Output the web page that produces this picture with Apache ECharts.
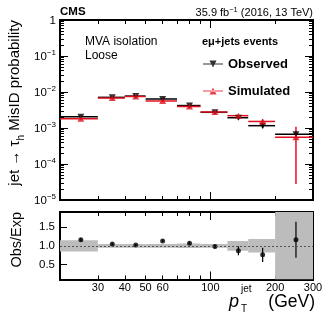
<!DOCTYPE html>
<html><head><meta charset="utf-8">
<script src="https://cdn.jsdelivr.net/npm/echarts@6/dist/echarts.min.js"></script>
<style>html,body{margin:0;padding:0;background:#fff}#c{width:332px;height:319px}</style>
</head><body><div id="c"></div><script>
// ---- data ----
const binLow = [20, 30, 40, 50, 70, 90, 120, 150, 200];
const binHigh = [30, 40, 50, 70, 90, 120, 150, 200, 300];
const binCenter = [25, 35, 45, 60, 80, 105, 135, 175, 250];
const observed = [2.06e-3, 7.1e-3, 7.7e-3, 6.4e-3, 4.2e-3, 2.73e-3, 1.93e-3, 1.16e-3, 6.7e-4];
const observedErrUp = [0.12e-3, 0.3e-3, 0.35e-3, 0.3e-3, 0.22e-3, 0.15e-3, 0.18e-3, 0.15e-3, 0.07e-3];
const observedErrDown = [0.12e-3, 0.3e-3, 0.35e-3, 0.3e-3, 0.22e-3, 0.15e-3, 0.18e-3, 0.18e-3, 0.1e-3];
const simulated = [1.81e-3, 6.8e-3, 7.5e-3, 5.65e-3, 3.95e-3, 2.78e-3, 2.2e-3, 1.52e-3, 5.5e-4];
const simulatedErrUp = [0.1e-3, 0.3e-3, 0.3e-3, 0.25e-3, 0.2e-3, 0.12e-3, 0.12e-3, 0.22e-3, 5.4e-4];
const simulatedErrDown = [0.1e-3, 0.3e-3, 0.3e-3, 0.25e-3, 0.2e-3, 0.12e-3, 0.12e-3, 0.2e-3, 5.22e-4];
const ratio = [1.16, 1.045, 1.02, 1.13, 1.07, 0.98, 0.87, 0.76, 1.16];
const ratioErr = [0.04, 0.03, 0.03, 0.03, 0.04, 0.05, 0.12, 0.19, 0.48];
const bandErr = [0.15, 0.05, 0.05, 0.05, 0.06, 0.05, 0.13, 0.18, 1.5];
const xRange = [20, 300];
const xTickLabels = [30, 40, 50, 60, 100, 200, 300];
const xMajorTicks = [100];
const xMinorTicks = [30, 40, 50, 60, 70, 80, 90, 200];
const yDecades = [-5, -4, -3, -2, -1, 0];
const ratioRange = [0.1, 1.9];
const ratioTickLabels = [0.5, 1.0, 1.5];

// ---- helpers ----
const L = v => Math.log10(v);
const FONT = '"Liberation Sans", Arial, Helvetica, sans-serif';
const RED = '#e0101e';
const yMinor = [];
yDecades.slice(0, -1).forEach(n => { for (let k = 2; k <= 9; k++) yMinor.push(n + L(k)); });

function xAx(grid, pos, ticks, len, labels) {
  return {
    type: 'value', gridIndex: grid, position: pos, min: L(xRange[0]), max: L(xRange[1]),
    axisLine: { show: true, onZero: false, lineStyle: { color: '#000', width: 2 } },
    axisTick: { show: true, inside: true, length: len, customValues: ticks, lineStyle: { color: '#000', width: 1 } },
    axisLabel: labels ? { show: true, customValues: labels.map(L), formatter: v => String(Math.round(Math.pow(10, v))),
      fontSize: 11, color: '#000', fontFamily: FONT, margin: 3 } : { show: false },
    splitLine: { show: false }
  };
}
function yLog(pos, ticks, len, labels) {
  return {
    type: 'value', gridIndex: 0, position: pos, min: -5, max: 0,
    axisLine: { show: true, onZero: false, lineStyle: { color: '#000', width: 2 } },
    axisTick: { show: true, inside: true, length: len, customValues: ticks, lineStyle: { color: '#000', width: 1 } },
    axisLabel: labels ? {
      show: true, customValues: yDecades, margin: 4, color: '#000', fontFamily: FONT,
      formatter: v => { const n = Math.round(v); return n === 0 ? '{b|1}' : '{b|10}{s|\u2212' + (-n) + '}'; },
      rich: { b: { fontSize: 11.5, fontFamily: FONT, color: '#000', verticalAlign: 'bottom', lineHeight: 14 },
              s: { fontSize: 8, fontFamily: FONT, color: '#000', verticalAlign: 'top', lineHeight: 14 } }
    } : { show: false },
    splitLine: { show: false }
  };
}
function yRatio(pos, labels) {
  return {
    type: 'value', gridIndex: 1, position: pos, min: ratioRange[0], max: ratioRange[1],
    axisLine: { show: true, onZero: false, lineStyle: { color: '#000', width: 2 } },
    axisTick: { show: true, inside: true, length: 7, customValues: ratioTickLabels, lineStyle: { color: '#000', width: 1 } },
    axisLabel: labels ? { show: true, customValues: ratioTickLabels, formatter: v => v.toFixed(1),
      fontSize: 11.5, color: '#000', fontFamily: FONT, margin: 5 } : { show: false },
    splitLine: { show: false }
  };
}

const xMaj = xMajorTicks.map(L), xMin = xMinorTicks.map(L);
const xAxes = [
  xAx(0, 'bottom', xMaj, 8), xAx(0, 'bottom', xMin, 4), xAx(0, 'top', xMaj, 8), xAx(0, 'top', xMin, 4),
  xAx(1, 'bottom', xMaj, 8, xTickLabels), xAx(1, 'bottom', xMin, 4), xAx(1, 'top', xMaj, 8), xAx(1, 'top', xMin, 4)
];
const yAxes = [
  yLog('left', yDecades, 8, true), yLog('left', yMinor, 4), yLog('right', yDecades, 8), yLog('right', yMinor, 4),
  yRatio('left', true), yRatio('right')
];

const obsRows = binLow.map((lo, i) => [L(lo), L(binHigh[i]), L(binCenter[i]), L(observed[i]),
  L(observed[i] - observedErrDown[i]), L(observed[i] + observedErrUp[i])]);
const simRows = binLow.map((lo, i) => [L(lo), L(binHigh[i]), L(binCenter[i]), L(simulated[i]),
  L(simulated[i] - simulatedErrDown[i]), L(simulated[i] + simulatedErrUp[i])]);
const bandRows = binLow.map((lo, i) => [L(lo), L(binHigh[i]), 1 + bandErr[i], 1 - bandErr[i]]);
const ratioRows = binCenter.map((c, i) => [L(c), ratio[i]]);
const ratioErrRows = binCenter.map((c, i) => [L(c), ratio[i] - ratioErr[i], ratio[i] + ratioErr[i]]);

function errRender(color) {
  return (params, api) => {
    const a = api.coord([api.value(0), api.value(3)]);
    const b = api.coord([api.value(1), api.value(3)]);
    const e1 = api.coord([api.value(2), api.value(4)]);
    const e2 = api.coord([api.value(2), api.value(5)]);
    return { type: 'group', children: [
      { type: 'line', shape: { x1: a[0], y1: a[1], x2: b[0], y2: b[1] }, style: { stroke: color, lineWidth: 1.5 } },
      { type: 'line', shape: { x1: e1[0], y1: e1[1], x2: e2[0], y2: e2[1] }, style: { stroke: color, lineWidth: 1.5 } }
    ] };
  };
}

const chart = echarts.init(document.getElementById('c'), null, { renderer: 'canvas' });
chart.setOption({
  animation: false,
  backgroundColor: '#fff',
  textStyle: { fontFamily: FONT },
  grid: [
    { left: 60, top: 20, width: 253, height: 180, outerBoundsMode: 'none' },
    { left: 60, top: 212, width: 253, height: 67.5, outerBoundsMode: 'none' }
  ],
  xAxis: xAxes,
  yAxis: yAxes,
  legend: {
    data: [
      { name: 'Observed', icon: 'path://M0,3.4L20,3.4L20,4.6L0,4.6Z M6.5,0.5L13.5,0.5L10,7.5Z' },
      { name: 'Simulated', icon: 'path://M0,3.4L20,3.4L20,4.6L0,4.6Z M6.5,7.5L13.5,7.5L10,0.5Z' }
    ],
    orient: 'vertical', left: 198, top: 50,
    itemWidth: 20, itemHeight: 8, itemGap: 9, itemStyle: { borderWidth: 0 },
    textStyle: { fontSize: 13, fontWeight: 'bold', color: '#000', fontFamily: FONT, lineHeight: 18 },
    selectedMode: false
  },
  series: [
    { type: 'custom', name: 'obsErr', xAxisIndex: 0, yAxisIndex: 0, data: obsRows,
      encode: { x: [0, 1, 2], y: [3, 4, 5] }, renderItem: errRender('#000'), z: 2 },
    { type: 'custom', name: 'simErr', xAxisIndex: 0, yAxisIndex: 0, data: simRows,
      encode: { x: [0, 1, 2], y: [3, 4, 5] }, renderItem: errRender(RED), z: 3 },
    { type: 'scatter', name: 'Observed', xAxisIndex: 0, yAxisIndex: 0, data: obsRows.map(r => [r[2], r[3]]),
      symbol: 'triangle', symbolRotate: 180, symbolSize: [7, 6], itemStyle: { color: '#000' }, z: 4 },
    { type: 'scatter', name: 'Simulated', xAxisIndex: 0, yAxisIndex: 0, data: simRows.map(r => [r[2], r[3]]),
      symbol: 'triangle', symbolSize: [7, 6], itemStyle: { color: RED }, z: 5 },
    { type: 'custom', name: 'band', xAxisIndex: 4, yAxisIndex: 4, data: bandRows, clip: true,
      encode: { x: [0, 1], y: [2, 3] }, z: 1,
      renderItem: (params, api) => {
        const cs = params.coordSys;
        const a = api.coord([api.value(0), api.value(2)]);
        const b = api.coord([api.value(1), api.value(3)]);
        const y1 = Math.max(cs.y, Math.min(a[1], b[1]));
        const y2 = Math.min(cs.y + cs.height, Math.max(a[1], b[1]));
        return { type: 'rect', shape: { x: a[0], y: y1, width: b[0] - a[0], height: y2 - y1 },
          style: { fill: '#bcbcbc' } };
      } },
    { type: 'custom', name: 'ratioErr', xAxisIndex: 4, yAxisIndex: 4, data: ratioErrRows,
      encode: { x: 0, y: [1, 2] }, z: 3,
      renderItem: (params, api) => {
        const a = api.coord([api.value(0), api.value(1)]);
        const b = api.coord([api.value(0), api.value(2)]);
        return { type: 'line', shape: { x1: a[0], y1: a[1], x2: b[0], y2: b[1] }, style: { stroke: '#000', lineWidth: 1.2 } };
      } },
    { type: 'scatter', name: 'ratio', xAxisIndex: 4, yAxisIndex: 4, data: ratioRows,
      symbol: 'circle', symbolSize: 5, itemStyle: { color: '#000' }, z: 4,
      markLine: { silent: true, symbol: 'none', label: { show: false },
        lineStyle: { color: '#555', type: [2, 2], width: 1 }, data: [{ yAxis: 1 }] } }
  ],
  graphic: [
    { type: 'text', x: 60, y: 12, style: { text: 'CMS', fontSize: 11.5, fontWeight: 'bold', fontFamily: FONT, fill: '#000', verticalAlign: 'middle' } },
    { type: 'text', x: 313, y: 12, style: { text: '{n|35.9 fb}{s|\u22121}{n| (2016, 13 TeV)}', align: 'right', verticalAlign: 'middle',
      rich: { n: { fontSize: 11, fontFamily: FONT, fill: '#000', verticalAlign: 'bottom', lineHeight: 13 },
              s: { fontSize: 7.5, fontFamily: FONT, fill: '#000', verticalAlign: 'top', lineHeight: 13 } } } },
    { type: 'text', x: 85, y: 42, style: { text: 'MVA isolation', fontSize: 12, fontFamily: FONT, fill: '#000', verticalAlign: 'middle' } },
    { type: 'text', x: 85, y: 56, style: { text: 'Loose', fontSize: 12, fontFamily: FONT, fill: '#000', verticalAlign: 'middle' } },
    { type: 'text', x: 202, y: 42, style: { text: 'e\u03bc+jets events', fontSize: 11, fontWeight: 'bold', fontFamily: FONT, fill: '#000', verticalAlign: 'middle' } },
    { type: 'text', x: 17, y: 20, rotation: Math.PI / 2, style: {
      text: '{n|jet \u2192 \u03c4}{s|h}{n| MisID probability}', align: 'right', verticalAlign: 'middle',
      rich: { n: { fontSize: 15, fontFamily: FONT, fill: '#000', verticalAlign: 'top', lineHeight: 19 },
              s: { fontSize: 10, fontFamily: FONT, fill: '#000', verticalAlign: 'bottom', lineHeight: 19 } } } },
    { type: 'text', x: 17, y: 212, rotation: Math.PI / 2, style: { text: 'Obs/Exp', fontSize: 14.5, fontFamily: FONT, fill: '#000', align: 'right', verticalAlign: 'middle' } },
    { type: 'text', x: 229, y: 302, style: { text: 'p', fontSize: 18, fontStyle: 'italic', fontFamily: FONT, fill: '#000', verticalAlign: 'middle' } },
    { type: 'text', x: 241, y: 289, style: { text: 'jet', fontSize: 10, fontFamily: FONT, fill: '#000', verticalAlign: 'middle' } },
    { type: 'text', x: 241, y: 309, style: { text: 'T', fontSize: 10, fontFamily: FONT, fill: '#000', verticalAlign: 'middle' } },
    { type: 'text', x: 315, y: 302, style: { text: '(GeV)', fontSize: 17.5, fontFamily: FONT, fill: '#000', align: 'right', verticalAlign: 'middle' } }
  ]
});
</script></body></html>
